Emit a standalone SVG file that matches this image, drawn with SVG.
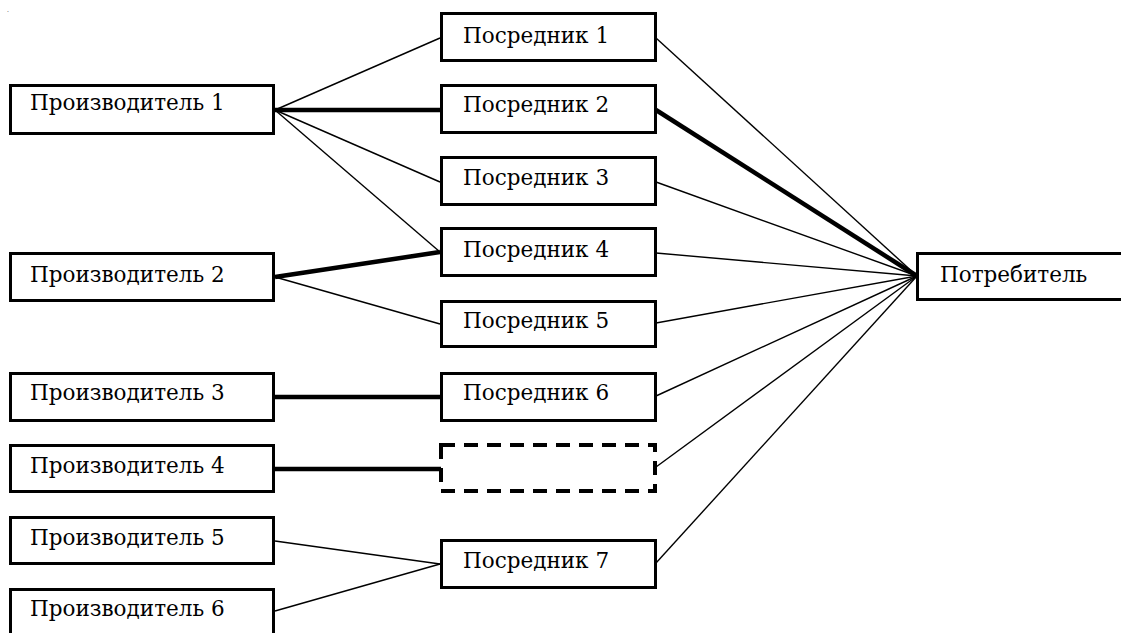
<svg xmlns="http://www.w3.org/2000/svg" width="1121" height="633" viewBox="0 0 1121 633">
<style>
.box{fill:#fff;stroke:#000;stroke-width:3}
.dash{fill:#fff;stroke:#000;stroke-width:4;stroke-dasharray:14 9}
.t{font-family:"DejaVu Serif","Liberation Serif",serif;font-size:21.5px;fill:#000}
.thin{stroke:#000;stroke-width:1.4;fill:none}
.thick{stroke:#000;stroke-width:4.5;fill:none}
</style>
<rect width="1121" height="633" fill="#fff"/>
<text x="7" y="12" font-size="6" font-family="DejaVu Serif, serif">.</text>
<g id="connectors">
<line class="thin" x1="275" y1="110" x2="440" y2="38"/>
<line class="thick" x1="275" y1="110" x2="440" y2="110"/>
<line class="thin" x1="275" y1="110" x2="440" y2="182"/>
<line class="thin" x1="275" y1="110" x2="440" y2="252"/>
<line class="thick" x1="275" y1="277" x2="440" y2="252"/>
<line class="thin" x1="275" y1="277" x2="440" y2="324"/>
<line class="thick" x1="275" y1="397" x2="440" y2="397"/>
<line class="thick" x1="275" y1="469" x2="442" y2="469"/>
<line class="thin" x1="275" y1="541" x2="440" y2="564"/>
<line class="thin" x1="275" y1="611" x2="440" y2="564"/>
<line class="thin" x1="656" y1="38" x2="917" y2="276"/>
<line class="thick" x1="656" y1="110" x2="917" y2="276"/>
<line class="thin" x1="656" y1="182" x2="917" y2="276"/>
<line class="thin" x1="656" y1="253" x2="917" y2="276"/>
<line class="thin" x1="656" y1="323" x2="917" y2="276"/>
<line class="thin" x1="656" y1="396" x2="917" y2="276"/>
<line class="thin" x1="656" y1="467" x2="917" y2="276"/>
<line class="thin" x1="656" y1="563" x2="917" y2="276"/>
</g>
<g id="p1"><rect class="box" x="10.5" y="85.5" width="263" height="48"/><text class="t" x="30" y="110">Производитель 1</text></g>
<g id="p2"><rect class="box" x="10.5" y="253.5" width="263" height="47"/><text class="t" x="30" y="282">Производитель 2</text></g>
<g id="p3"><rect class="box" x="10.5" y="373.5" width="263" height="47"/><text class="t" x="30" y="400">Производитель 3</text></g>
<g id="p4"><rect class="box" x="10.5" y="445.5" width="263" height="46"/><text class="t" x="30" y="473">Производитель 4</text></g>
<g id="p5"><rect class="box" x="10.5" y="517.5" width="263" height="46"/><text class="t" x="30" y="545">Производитель 5</text></g>
<g id="p6"><rect class="box" x="10.5" y="589.5" width="263" height="60"/><text class="t" x="30" y="616">Производитель 6</text></g>
<g id="m1"><rect class="box" x="441.5" y="13.5" width="214" height="47"/><text class="t" x="463" y="43">Посредник 1</text></g>
<g id="m2"><rect class="box" x="441.5" y="85.5" width="214" height="47"/><text class="t" x="463" y="112">Посредник 2</text></g>
<g id="m3"><rect class="box" x="441.5" y="157.5" width="214" height="47"/><text class="t" x="463" y="185">Посредник 3</text></g>
<g id="m4"><rect class="box" x="441.5" y="228.5" width="214" height="47"/><text class="t" x="463" y="257">Посредник 4</text></g>
<g id="m5"><rect class="box" x="441.5" y="301.5" width="214" height="45"/><text class="t" x="463" y="328">Посредник 5</text></g>
<g id="m6"><rect class="box" x="441.5" y="373.5" width="214" height="47"/><text class="t" x="463" y="400">Посредник 6</text></g>
<g id="empty"><rect class="dash" x="441" y="445" width="214" height="46"/></g>
<g id="m7"><rect class="box" x="441.5" y="540.5" width="214" height="47"/><text class="t" x="463" y="568">Посредник 7</text></g>
<g id="consumer"><rect class="box" x="917.5" y="253.5" width="250" height="46"/><text class="t" x="940" y="282">Потребитель</text></g>
</svg>
